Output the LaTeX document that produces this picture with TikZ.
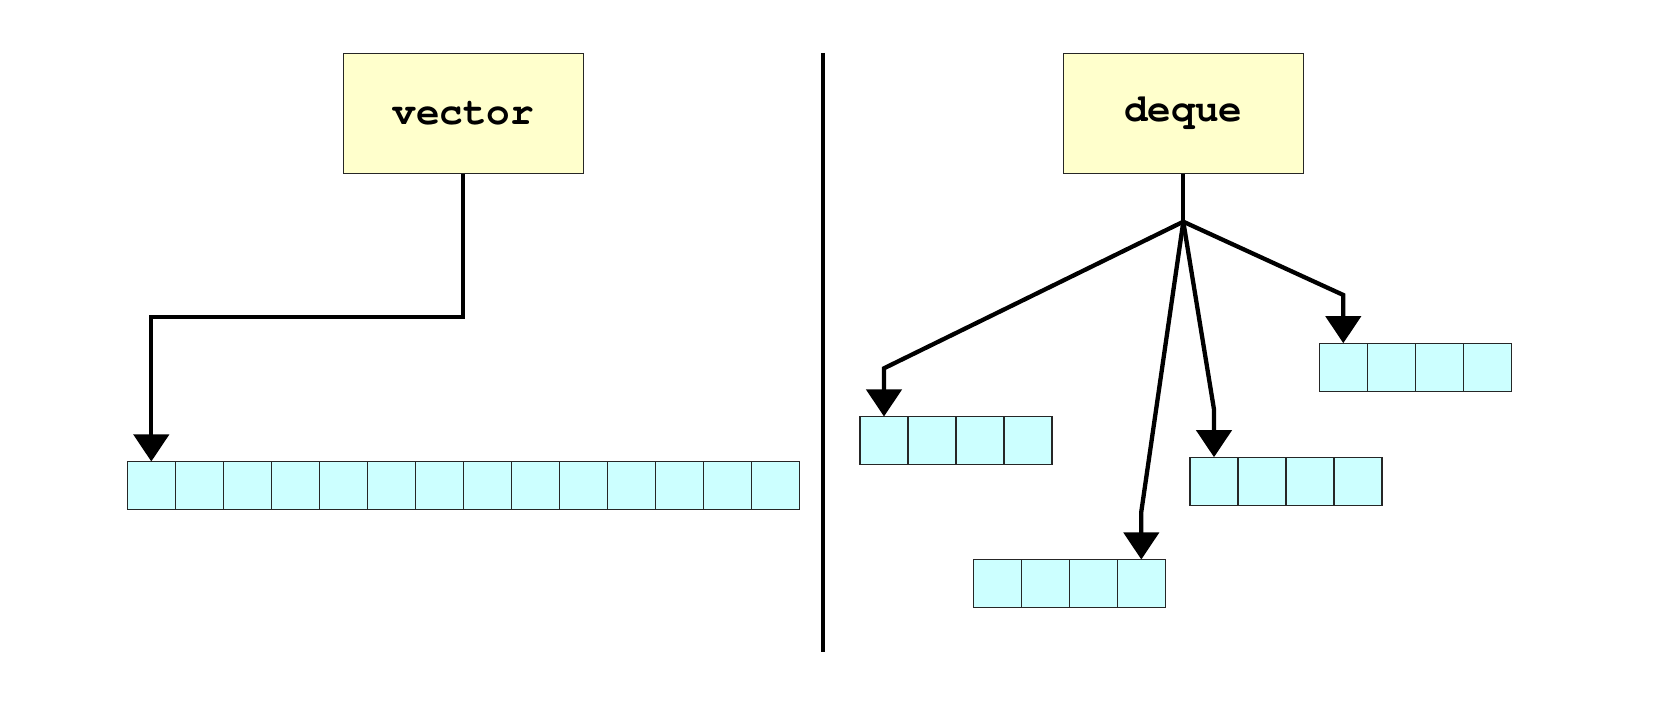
\documentclass[tikz,border=0pt]{standalone}
\usepackage{fontspec}
\newfontfamily\codefont{TeX Gyre Cursor}
\usetikzlibrary{arrows.meta}
\definecolor{yellowbg}{HTML}{FFFFCC}
\definecolor{cellbg}{HTML}{CCFFFF}
\begin{document}
\begin{tikzpicture}[x=0.5pt,y=-0.5pt,
  hdr/.style={draw=black!85, line width=0.6pt, fill=yellowbg, minimum width=120pt, minimum height=60pt, inner sep=0pt, font=\codefont\bfseries\fontsize{19.7}{20}\selectfont},
  cell/.style={draw=black!85, line width=0.6pt, fill=cellbg, minimum width=24pt, minimum height=24pt, inner sep=0pt, outer sep=0pt},
  wire/.style={line width=2.15pt},
  conn/.style={line width=2.15pt, -{Triangle[width=17.5pt,length=13.5pt]}}]
\fill[white] (0,0) rectangle (1672,710);
\useasboundingbox (0,0) rectangle (1672,710);
% divider
\coordinate (divtop) at (823,53);
\coordinate (divbot) at (823,652.5);
\draw[wire] (divtop) -- (divbot);
% vector
\node[hdr] (vec) at (463.3,113.3) {vector};
\foreach \i in {0,...,13} \node[cell] (v\i) at ({151.3+48*\i},485.5) {};
\coordinate (vbend) at (463.3,317);
\draw[conn] (vec.south) -- (vbend) -| (v0.north);
% deque
\node[hdr] (deq) at (1183.3,113.3) {deque};
\foreach \i in {0,...,3} {
  \node[cell] (a\i) at ({884+48*\i},440.5) {};
  \node[cell] (b\i) at ({997.3+48*\i},583.5) {};
  \node[cell] (c\i) at ({1214+48*\i},481.2) {};
  \node[cell] (d\i) at ({1343.3+48*\i},367.2) {};
}
\coordinate (J) at (1183.3,221.7);
\coordinate (ba) at (884,368.3);
\coordinate (bb) at (1141.3,511.7);
\coordinate (bc) at (1214,409.5);
\coordinate (bd) at (1343.3,295);
\draw[wire] (deq.south) -- (J);
\draw[conn] (J) -- (ba) -- (a0.north);
\draw[conn] (J) -- (bb) -- (b3.north);
\draw[conn] (J) -- (bc) -- (c0.north);
\draw[conn] (J) -- (bd) -- (d0.north);
\end{tikzpicture}
\end{document}
